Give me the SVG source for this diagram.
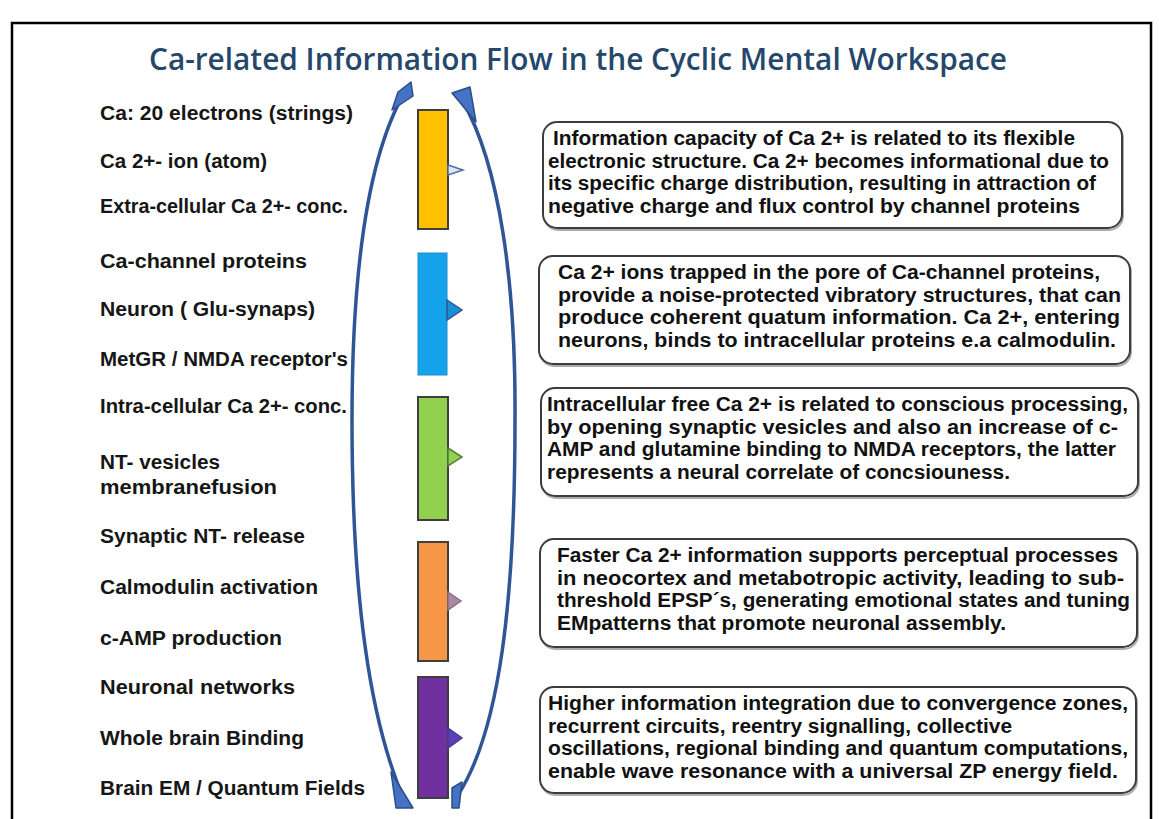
<svg xmlns="http://www.w3.org/2000/svg" width="1159" height="819" viewBox="0 0 1159 819">
<defs>
<style>
.title{font-family:"Open Sans","Liberation Sans",sans-serif;font-weight:600;font-size:31px;fill:#24476b}
.lbl{font-family:"Liberation Sans",Arial,sans-serif;font-weight:bold;font-size:20px;fill:#161616}
.bt{font-family:"Liberation Sans",Arial,sans-serif;font-weight:bold;font-size:20px;fill:#111}
.box{fill:#fff;stroke:#3c3c3c;stroke-width:2}
.shadow{fill:none;stroke:#a9adb3;stroke-width:2}
.bar{stroke:#3f3f3f;stroke-width:2}
.arc{fill:none;stroke:#2f5597;stroke-width:3.5;stroke-linecap:round}
.wedge{fill:#4472c4;stroke:#2c4e86;stroke-width:1.5;stroke-linejoin:round}
</style>
</defs>
<rect x="0" y="0" width="1159" height="819" fill="#fff"/>
<path d="M12,830 V23 H1151 V830" fill="none" stroke="#000" stroke-width="2.5"/>
<text class="title" x="578" y="70" text-anchor="middle" textLength="858" lengthAdjust="spacingAndGlyphs">Ca-related Information Flow in the Cyclic Mental Workspace</text>

<g id="labels">
<text class="lbl" x="100" y="120" textLength="253" lengthAdjust="spacingAndGlyphs">Ca:  20 electrons (strings)</text>
<text class="lbl" x="100" y="168" textLength="167" lengthAdjust="spacingAndGlyphs">Ca 2+- ion (atom)</text>
<text class="lbl" x="100" y="213" textLength="248" lengthAdjust="spacingAndGlyphs">Extra-cellular Ca 2+- conc.</text>
<text class="lbl" x="100" y="268" textLength="207" lengthAdjust="spacingAndGlyphs">Ca-channel proteins</text>
<text class="lbl" x="100" y="316" textLength="215" lengthAdjust="spacingAndGlyphs">Neuron ( Glu-synaps)</text>
<text class="lbl" x="100" y="366" textLength="248" lengthAdjust="spacingAndGlyphs">MetGR / NMDA receptor's</text>
<text class="lbl" x="100" y="413" textLength="247" lengthAdjust="spacingAndGlyphs">Intra-cellular Ca 2+- conc.</text>
<text class="lbl" x="100" y="469" textLength="120" lengthAdjust="spacingAndGlyphs">NT- vesicles</text>
<text class="lbl" x="100" y="494" textLength="177" lengthAdjust="spacingAndGlyphs">membranefusion</text>
<text class="lbl" x="100" y="543" textLength="205" lengthAdjust="spacingAndGlyphs">Synaptic NT- release</text>
<text class="lbl" x="100" y="594" textLength="218" lengthAdjust="spacingAndGlyphs">Calmodulin activation</text>
<text class="lbl" x="100" y="645" textLength="182" lengthAdjust="spacingAndGlyphs">c-AMP production</text>
<text class="lbl" x="100" y="694" textLength="195" lengthAdjust="spacingAndGlyphs">Neuronal  networks</text>
<text class="lbl" x="100" y="745" textLength="204" lengthAdjust="spacingAndGlyphs">Whole brain Binding</text>
<text class="lbl" x="100" y="795" textLength="265" lengthAdjust="spacingAndGlyphs">Brain EM / Quantum Fields</text>
</g>

<g id="connectors">
<path class="arc" d="M406,90 C370,150 352,260 352,420 C352,600 370,720 404,800"/>
<path class="arc" d="M462,100 C500,165 516,285 515,420 C515,600 500,730 458,795"/>
<polygon class="wedge" points="392,110 398,92 411,82 413,96"/>
<polygon class="wedge" points="452,93 470,87 476,122"/>
<polygon class="wedge" points="391,772 396,808 413,808"/>
<polygon class="wedge" points="452,788 462,782 459,808 452,808"/>
</g>

<g id="bar1">
<rect class="bar" x="418" y="110" width="30" height="119" fill="#ffc000"/>
<polygon points="448,165 463,170 448,175" fill="#dfe6f0" stroke="#4a6fa5" stroke-width="1.5"/>
</g>
<g id="bar2">
<rect x="418" y="253" width="29" height="122" fill="#14a3ea" stroke="#1a8fd0" stroke-width="1"/>
<polygon points="447,300 462,310 447,320" fill="#1a8fd6" stroke="#2f5597" stroke-width="1.5"/>
</g>
<g id="bar3">
<rect class="bar" x="418" y="397" width="30" height="123" fill="#92d050"/>
<polygon points="448,448 462,457 448,466" fill="#92d050" stroke="#4f7f35" stroke-width="1.5"/>
</g>
<g id="bar4">
<rect class="bar" x="418" y="542" width="30" height="119" fill="#f79646"/>
<polygon points="448,592 461,601 448,610" fill="#a88aa0" stroke="#8a6f8a" stroke-width="1.5"/>
</g>
<g id="bar5">
<rect class="bar" x="418" y="677" width="30" height="121" fill="#7030a0"/>
<polygon points="448,728 462,738 448,748" fill="#5a3fb0" stroke="#4b3a9a" stroke-width="1.5"/>
</g>

<g id="box1">
<rect class="shadow" x="544" y="124" width="579" height="106" rx="14"/>
<rect class="box" x="543" y="122" width="579" height="106" rx="14"/>
<text class="bt" x="553" y="145" textLength="522" lengthAdjust="spacingAndGlyphs">Information capacity of Ca 2+ is related to its flexible</text>
<text class="bt" x="548" y="167.5" textLength="561" lengthAdjust="spacingAndGlyphs">electronic structure. Ca 2+ becomes informational due to</text>
<text class="bt" x="548" y="190" textLength="548" lengthAdjust="spacingAndGlyphs">its specific charge distribution, resulting in attraction of</text>
<text class="bt" x="548" y="212.5" textLength="532" lengthAdjust="spacingAndGlyphs">negative charge and flux control by channel proteins</text>
</g>
<g id="box2">
<rect class="shadow" x="540" y="258" width="591" height="108" rx="14"/>
<rect class="box" x="539" y="256" width="591" height="108" rx="14"/>
<text class="bt" x="558" y="279" textLength="542" lengthAdjust="spacingAndGlyphs">Ca 2+ ions trapped in the pore of Ca-channel proteins,</text>
<text class="bt" x="558" y="301.5" textLength="563" lengthAdjust="spacingAndGlyphs">provide a noise-protected vibratory structures, that can</text>
<text class="bt" x="558" y="324" textLength="562" lengthAdjust="spacingAndGlyphs">produce coherent quatum information. Ca 2+, entering</text>
<text class="bt" x="558" y="346.5" textLength="558" lengthAdjust="spacingAndGlyphs">neurons, binds to intracellular proteins e.a calmodulin.</text>
</g>
<g id="box3">
<rect class="shadow" x="542" y="390" width="597" height="108" rx="14"/>
<rect class="box" x="541" y="388" width="597" height="108" rx="14"/>
<text class="bt" x="547" y="411" textLength="581" lengthAdjust="spacingAndGlyphs">Intracellular free Ca 2+ is related to conscious processing,</text>
<text class="bt" x="547" y="433.5" textLength="571" lengthAdjust="spacingAndGlyphs">by opening synaptic vesicles and also an  increase of c-</text>
<text class="bt" x="547" y="456" textLength="569" lengthAdjust="spacingAndGlyphs">AMP and glutamine binding to NMDA receptors, the latter</text>
<text class="bt" x="547" y="478.5" textLength="463" lengthAdjust="spacingAndGlyphs">represents a neural correlate of concsiouness.</text>
</g>
<g id="box4">
<rect class="shadow" x="541" y="541" width="597" height="108" rx="14"/>
<rect class="box" x="540" y="539" width="597" height="108" rx="14"/>
<text class="bt" x="557" y="562" textLength="561" lengthAdjust="spacingAndGlyphs">Faster Ca 2+ information supports perceptual processes</text>
<text class="bt" x="557" y="584.5" textLength="567" lengthAdjust="spacingAndGlyphs">in neocortex and metabotropic activity, leading to sub-</text>
<text class="bt" x="557" y="607" textLength="573" lengthAdjust="spacingAndGlyphs">threshold EPSP´s, generating emotional states and tuning</text>
<text class="bt" x="557" y="629.5" textLength="449" lengthAdjust="spacingAndGlyphs">EMpatterns that promote neuronal assembly.</text>
</g>
<g id="box5">
<rect class="shadow" x="541" y="689" width="596" height="106" rx="14"/>
<rect class="box" x="540" y="687" width="596" height="106" rx="14"/>
<text class="bt" x="548" y="710" textLength="580" lengthAdjust="spacingAndGlyphs">Higher information integration due to convergence zones,</text>
<text class="bt" x="548" y="732.5" textLength="464" lengthAdjust="spacingAndGlyphs">recurrent circuits, reentry signalling, collective</text>
<text class="bt" x="548" y="755" textLength="580" lengthAdjust="spacingAndGlyphs">oscillations, regional binding and quantum computations,</text>
<text class="bt" x="548" y="777.5" textLength="570" lengthAdjust="spacingAndGlyphs">enable wave resonance with a universal ZP energy field.</text>
</g>
</svg>
